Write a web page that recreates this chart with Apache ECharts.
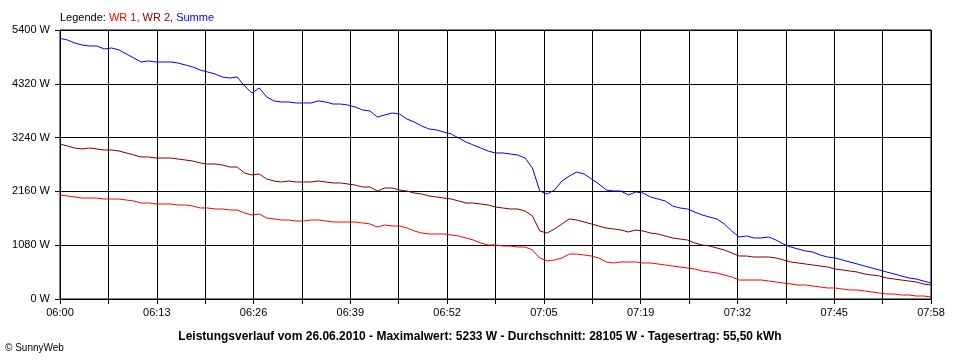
<!DOCTYPE html>
<html><head><meta charset="utf-8">
<script src="https://cdn.jsdelivr.net/npm/echarts@6/dist/echarts.min.js"></script>
<style>html,body{margin:0;padding:0;background:#fff}#c{width:960px;height:360px}</style>
</head><body><div id="c"></div>
<script>
// minutes after 06:00
const minutes = [0,1,2,3,4,5,6,7,8,9,10,11,12,13,14,15,16,17,18,19,20,21,22,23,24,25,26,27,28,29,
30,31,32,33,34,35,36,37,38,39,40,41,42,43,44,45,46,47,48,49,50,51,52,53,54,55,56,57,58,59,
60,61,62,63,64,65,66,67,68,69,70,71,72,73,74,75,76,77,78,79,80,81,82,83,84,85,86,87,88,89,
90,91,92,93,94,95,96,97,98,99,100,101,102,103,104,105,106,107,108,109,110,111,112,113,114,115,116,117,118];

const wr1 = [2088,2068,2048,2027,2027,2027,2007,2007,2007,1987,
1967,1927,1927,1907,1907,1907,1887,1887,1867,1827,
1827,1807,1807,1787,1787,1726,1686,1706,1626,1606,
1586,1586,1566,1566,1586,1586,1566,1546,1546,1546,
1546,1526,1506,1445,1485,1465,1465,1425,1365,1325,
1305,1305,1305,1285,1265,1225,1184,1124,1084,1084,
1064,1064,1044,1044,984,823,763,783,823,903,
903,883,863,823,743,723,743,743,743,723,
723,703,683,662,642,622,602,562,542,522,
482,442,381,381,381,381,361,341,321,301,
281,281,261,241,221,221,201,181,181,161,
141,120,100,100,80,80,60,60,40];

const wr2 = [3111,3071,3031,3011,3031,3011,2991,2991,2971,2931,
2891,2851,2851,2830,2830,2830,2810,2790,2770,2730,
2710,2710,2690,2650,2650,2529,2489,2509,2409,2369,
2349,2369,2349,2349,2349,2369,2349,2329,2329,2309,
2288,2248,2248,2168,2228,2228,2188,2168,2128,2108,
2068,2048,2027,2007,1967,1927,1927,1907,1887,1847,
1827,1807,1807,1767,1666,1365,1325,1405,1506,1606,
1586,1546,1506,1465,1425,1405,1385,1345,1385,1365,
1325,1305,1265,1225,1204,1184,1124,1084,1064,1024,
984,923,863,863,843,843,843,823,783,743,
723,703,683,662,642,602,582,562,542,502,
482,462,422,401,381,361,341,301,281];

const summe = [5233,5199,5139,5099,5079,5079,5019,5039,4998,4918,
4838,4758,4778,4758,4758,4758,4737,4697,4657,4597,
4557,4517,4456,4436,4456,4276,4135,4236,4055,3975,
3955,3955,3935,3935,3935,3975,3955,3914,3914,3894,
3854,3794,3774,3653,3694,3734,3714,3613,3553,3473,
3413,3393,3352,3312,3232,3152,3091,3031,2971,2931,
2931,2911,2891,2830,2630,2168,2108,2188,2369,2469,
2549,2509,2409,2309,2188,2168,2168,2088,2148,2128,
2048,2007,1967,1867,1827,1807,1746,1686,1646,1606,
1506,1365,1245,1265,1225,1225,1245,1184,1104,1044,
1004,964,943,883,843,823,783,743,703,662,
622,582,542,502,462,422,401,361,321];

const xTickLabels = ['06:00','','06:13','','06:26','','06:39','','06:52','','07:05','','07:19','','07:32','','07:45','','07:58'];
const yMax = 5400, yStep = 1080;
const xMax = 118, xSteps = 18;

const titleText = 'Leistungsverlauf vom 26.06.2010 - Maximalwert: 5233 W - Durchschnitt: 28105 W - Tagesertrag: 55,50 kWh';

const font = '"Liberation Sans", Arial, sans-serif';
const chart = echarts.init(document.getElementById('c'), null, {renderer: 'canvas'});
const pair = (xs, ys) => xs.map((x, i) => [x, ys[i]]);

chart.setOption({
  animation: false,
  backgroundColor: '#fff',
  grid: {left: 60, right: 29, top: 30, bottom: 61, show: true, borderColor: '#000', borderWidth: 1, backgroundColor: 'transparent'},
  xAxis: {
    type: 'value', min: 0, max: xMax, interval: xMax / xSteps,
    axisLine: {show: true, lineStyle: {color: '#000', width: 1}},
    axisTick: {show: true, length: 5, lineStyle: {color: '#000'}},
    splitLine: {show: true, lineStyle: {color: '#000', width: 1}},
    axisLabel: {
      color: '#000', fontFamily: font, fontSize: 11, margin: 8, showMinLabel: true, showMaxLabel: true,
      formatter: v => xTickLabels[Math.round(v / (xMax / xSteps))] || ''
    }
  },
  yAxis: {
    type: 'value', min: 0, max: yMax, interval: yStep,
    axisLine: {show: true, lineStyle: {color: '#000', width: 1}},
    axisTick: {show: true, length: 5, lineStyle: {color: '#000'}},
    splitLine: {show: true, lineStyle: {color: '#000', width: 1}},
    axisLabel: {color: '#000', fontFamily: font, fontSize: 11, margin: 10, formatter: v => v + ' W'}
  },
  series: [
    {name: 'WR 1', type: 'line', data: pair(minutes, wr1), showSymbol: false, lineStyle: {color: '#ff0000', width: 1}, itemStyle: {color: '#ff0000'}},
    {name: 'WR 2', type: 'line', data: pair(minutes, wr2), showSymbol: false, lineStyle: {color: '#800000', width: 1}, itemStyle: {color: '#800000'}},
    {name: 'Summe', type: 'line', data: pair(minutes, summe), showSymbol: false, lineStyle: {color: '#0000ff', width: 1}, itemStyle: {color: '#0000ff'}}
  ],
  graphic: [
    {type: 'text', left: 60, top: 12, style: {
      text: '{k|Legende: }{a|WR 1, }{b|WR 2, }{c|Summe}',
      rich: {
        k: {fill: '#000', fontFamily: font, fontSize: 11},
        a: {fill: '#ff0000', fontFamily: font, fontSize: 11},
        b: {fill: '#800000', fontFamily: font, fontSize: 11},
        c: {fill: '#0000ff', fontFamily: font, fontSize: 11}
      }
    }},
    {type: 'text', left: 'center', top: 331, style: {text: titleText, fill: '#000', fontFamily: font, fontSize: 12, fontWeight: 'bold'}},
    {type: 'text', left: 5, top: 343, style: {text: '\u00A9 SunnyWeb', fill: '#000', fontFamily: font, fontSize: 10}}
  ]
});
</script></body></html>
